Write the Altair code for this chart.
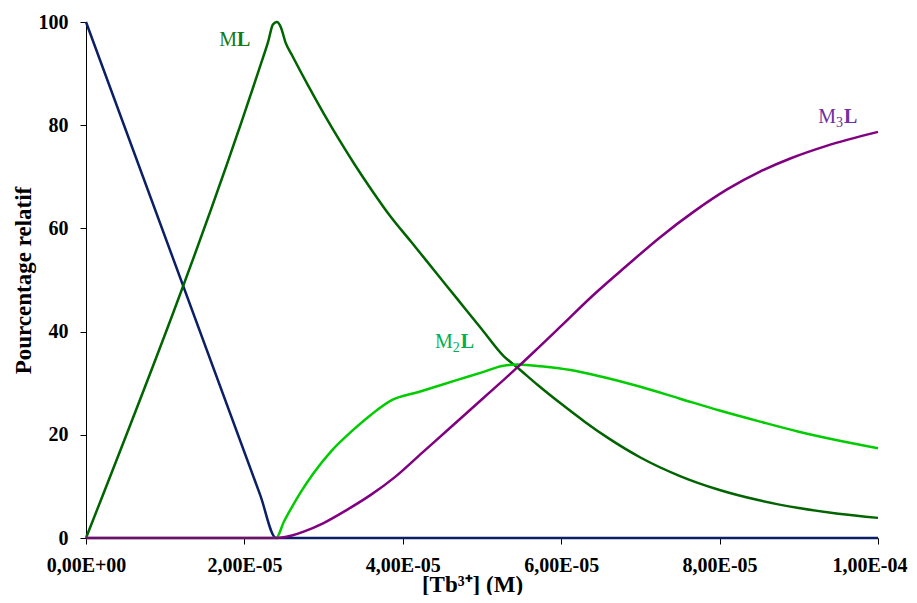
import altair as alt
import pandas as pd

# x values in mol/L (M)
L_x = [0, 22e-6, 24e-6, 100e-6]
L_y = [100, 8.3, 0, 0]

ML_x = [0, 22e-6, 23e-6, 23.6e-6, 24.1e-6, 24.6e-6, 25.2e-6, 26e-6, 28e-6, 30e-6, 32e-6, 34e-6,
        36e-6, 38.4e-6, 41e-6, 44e-6, 47e-6, 50e-6, 52.7e-6, 54.5e-6, 57e-6,
        60e-6, 63e-6, 66e-6, 70e-6, 75e-6, 80e-6, 85e-6, 90e-6, 95e-6, 100e-6]
ML_y = [0, 91.5, 96.2, 99.5, 100, 99, 96, 93.6, 87.8, 82.3, 77.1, 72.2,
        67.6, 62.4, 57.5, 51.8, 46.1, 40.4, 35.3, 33.0, 29.7,
        26.0, 22.5, 19.3, 15.6, 12.0, 9.3, 7.3, 5.8, 4.7, 3.9]

M2L_x = [0, 24e-6, 25e-6, 26e-6, 27e-6, 28.7e-6, 31e-6, 33.7e-6, 36e-6, 38.6e-6, 42e-6, 47e-6,
         50e-6, 52.7e-6, 54.5e-6, 56e-6, 58e-6, 61e-6, 65e-6, 70e-6, 75e-6, 80e-6, 85e-6,
         90e-6, 95e-6, 100e-6]
M2L_y = [0, 0, 3.2, 6.0, 8.6, 12.5, 16.9, 20.9, 23.9, 26.7, 28.3, 30.7,
         32.1, 33.4, 33.6, 33.5, 33.2, 32.6, 31.3, 29.3, 27.0, 24.7, 22.6,
         20.6, 18.9, 17.4]

M3L_x = [0, 24e-6, 25e-6, 26e-6, 27.4e-6, 30e-6, 33e-6, 36e-6, 39e-6, 42.5e-6, 46.3e-6, 50e-6,
         52.7e-6, 54.5e-6, 57e-6, 59.8e-6, 64e-6, 68.3e-6, 72.5e-6, 76.7e-6, 81e-6, 85.1e-6,
         89e-6, 93.5e-6, 100e-6]
M3L_y = [0, 0, 0.15, 0.5, 1.2, 2.9, 5.5, 8.4, 11.8, 16.6, 21.8, 26.9,
         30.6, 33.1, 36.7, 40.8, 47.0, 52.8, 58.3, 63.2, 67.6, 71.0,
         73.6, 76.0, 78.7]

x_ticks = [0, 2e-5, 4e-5, 6e-5, 8e-5, 1e-4]
x_tick_labels = ["0,00E+00", "2,00E-05", "4,00E-05", "6,00E-05", "8,00E-05", "1,00E-04"]
y_ticks = [0, 20, 40, 60, 80, 100]

series = [
    ("L", L_x, L_y, "#0a1f66"),
    ("ML", ML_x, ML_y, "#006400"),
    ("M2L", M2L_x, M2L_y, "#00cc00"),
    ("M3L", M3L_x, M3L_y, "#800080"),
]

# label annotations: (main letter, subscript, anchor x, anchor y, color)
labels = [
    ("M", "", 19.07e-6, 96.5, "#137a13"),
    ("M", "2", 46.3e-6, 38.0, "#00b050"),
    ("M", "3", 94.7e-6, 81.6, "#7030a0"),
]

FONT = "Liberation Serif"
W, H = 792, 516

labels_js = "[" + ",".join("'%s'" % s for s in x_tick_labels) + "]"

xscale = alt.Scale(domain=[0, 1e-4], nice=False, zero=False)
yscale = alt.Scale(domain=[0, 100], nice=False)

last_test = "datum.value >= 9.9e-5"
xaxis = alt.Axis(values=x_ticks, labelExpr=labels_js + "[round(datum.value / 2e-5)]",
                 labelFlush=False,
                 labelAlign={"condition": {"test": last_test, "value": "right"}, "value": "center"},
                 labelOffset={"condition": {"test": last_test, "value": 29}, "value": 0},
                 title="[Tb³⁺] (M)", titleX=386, titleY=53, titleBaseline="alphabetic",
                 labelPadding=11)
yaxis = alt.Axis(values=y_ticks, title="Pourcentage relatif", titleX=-63, titleY=H / 2,
                 titleBaseline="middle", titleAlign="center", labelPadding=12)


def xy():
    return dict(x=alt.X("x:Q", scale=xscale, axis=xaxis),
                y=alt.Y("y:Q", scale=yscale, axis=yaxis))


layers = []
for name, xs, ys, col in series:
    df = pd.DataFrame({"x": xs, "y": ys, "s": name})
    layers.append(
        alt.Chart(df).mark_line(color=col, strokeWidth=2.5, interpolate="monotone").encode(**xy())
    )

for main, sub, lx, ly, col in labels:
    df = pd.DataFrame({"x": [lx], "y": [ly], "m": [main], "sub": [sub], "L": ["L"]})
    base = alt.Chart(df).encode(**xy())
    layers.append(base.mark_text(align="right", baseline="middle", font=FONT, fontSize=20,
                                 fontWeight="normal", color=col).encode(text="m:N"))
    if sub:
        layers.append(base.mark_text(align="left", baseline="middle", font=FONT, fontSize=14,
                                     fontWeight="normal", color=col, dy=6).encode(text="sub:N"))
        ldx = 8
    else:
        ldx = 0
    layers.append(base.mark_text(align="left", baseline="middle", font=FONT, fontSize=20,
                                 fontWeight="bold", color=col, dx=ldx).encode(text="L:N"))

chart = alt.layer(*layers).properties(
    width=W, height=H,
    autosize=alt.AutoSizeParams(type="none"),
    padding={"left": 78, "top": 14, "right": 31, "bottom": 57},
).configure_view(stroke=None).configure_axis(
    grid=False,
    domainColor="black", domainWidth=1,
    tickColor="black", tickSize=6, tickWidth=1,
    labelFont=FONT, labelFontWeight="bold", labelFontSize=20, labelColor="black",
    titleFont=FONT, titleFontWeight="bold", titleFontSize=23, titleColor="black",
)

chart.save("out.html", embed_options={"renderer": "svg", "actions": False})
